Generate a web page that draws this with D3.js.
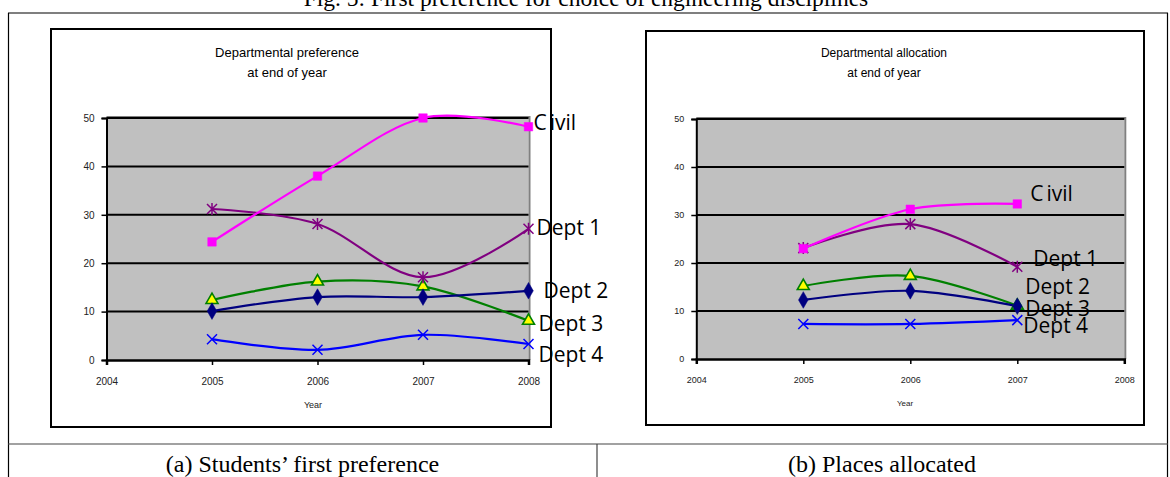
<!DOCTYPE html>
<html>
<head>
<meta charset="utf-8">
<script src="https://cdn.jsdelivr.net/npm/d3@7"></script>
<style>
  html, body { margin: 0; padding: 0; background: #fff; }
  svg { display: block; }
</style>
</head>
<body>
<svg id="fig" width="1170" height="477"></svg>
<script>
// ---------------- DATA ----------------
const figCaption = "Fig. 5: First preference for choice of engineering disciplines";
const captionA = "(a) Students\u2019 first preference";
const captionB = "(b) Places allocated";
const titleA = ["Departmental preference", "at end of year"];
const titleB = ["Departmental allocation", "at end of year"];
const xAxisTitle = "Year";
const xTickYears = [2004, 2005, 2006, 2007, 2008];
const yTickValues = [0, 10, 20, 30, 40, 50];
const seriesNames = ["Civil", "Dept 1", "Dept 2", "Dept 3", "Dept 4"];

// (a) Students' first preference
const prefYears = [2005, 2006, 2007, 2008];
const prefCivil = [24.4, 38.0, 50.0, 48.2];
const prefDept1 = [31.2, 28.1, 17.1, 27.1];
const prefDept2 = [10.1, 13.0, 13.0, 14.3];
const prefDept3 = [12.4, 16.2, 15.2, 8.1];
const prefDept4 = [4.3, 2.1, 5.2, 3.3];

// (b) Places allocated
const allocYears = [2005, 2006, 2007];
const allocCivil = [23.0, 31.2, 32.3];
const allocDept1 = [23.1, 28.1, 19.2];
const allocDept2 = [12.3, 14.2, 11.0];
const allocDept3 = [15.2, 17.3, 11.1];
const allocDept4 = [7.3, 7.3, 8.1];

// ---------------- STYLES ----------------
const seriesStyle = [
  { color: "#ff00ff", marker: "square" },
  { color: "#800080", marker: "asterisk" },
  { color: "#000080", marker: "diamond" },
  { color: "#008000", marker: "triangle" },
  { color: "#0000ff", marker: "x" }
];

const svg = d3.select("#fig");
const serif = "'Liberation Serif', 'Times New Roman', serif";
const sans = "'Liberation Sans', Arial, sans-serif";
const labelFont = "'Open Sans', 'Noto Sans', sans-serif";

// ---------------- TABLE FRAME ----------------
const frame = svg.append("g").attr("fill", "none");
frame.append("line").attr("x1", 8).attr("x2", 1168).attr("y1", 13).attr("y2", 13).attr("stroke", "#000").attr("stroke-width", 1.2);
frame.append("line").attr("x1", 8.5).attr("x2", 8.5).attr("y1", 13).attr("y2", 477).attr("stroke", "#000").attr("stroke-width", 1.2);
frame.append("line").attr("x1", 1167.5).attr("x2", 1167.5).attr("y1", 13).attr("y2", 477).attr("stroke", "#000").attr("stroke-width", 1.2);
frame.append("line").attr("x1", 8).attr("x2", 1168).attr("y1", 444).attr("y2", 444).attr("stroke", "#444").attr("stroke-width", 1.2);
frame.append("line").attr("x1", 597).attr("x2", 597).attr("y1", 444).attr("y2", 477).attr("stroke", "#444").attr("stroke-width", 1.2);

svg.append("text").attr("x", 586).attr("y", 5.5).attr("text-anchor", "middle")
  .attr("font-family", serif).attr("font-size", 23.5).attr("fill", "#000").text(figCaption);
svg.append("text").attr("x", 302.5).attr("y", 472).attr("text-anchor", "middle")
  .attr("font-family", serif).attr("font-size", 24).attr("fill", "#000").text(captionA);
svg.append("text").attr("x", 882).attr("y", 472).attr("text-anchor", "middle")
  .attr("font-family", serif).attr("font-size", 24).attr("fill", "#000").text(captionB);

// ---------------- MARKERS ----------------
function markerPath(type) {
  switch (type) {
    case "square": return d3.symbol(d3.symbolSquare, 72)();
    case "diamond": return d3.symbol(d3.symbolDiamond, 80)();
    case "triangle": return d3.symbol(d3.symbolTriangle, 62)();
    case "x": return "M-5,-5L5,5M-5,5L5,-5";
    case "asterisk": return "M-5,-5L5,5M-5,5L5,-5M0,-6L0,6";
  }
}

function drawChart(cfg) {
  const g = svg.append("g");
  // chart box
  g.append("rect").attr("x", cfg.box.x).attr("y", cfg.box.y).attr("width", cfg.box.w).attr("height", cfg.box.h)
    .attr("fill", "#fff").attr("stroke", "#000").attr("stroke-width", 2);

  const x = d3.scaleLinear().domain([2004, 2008]).range([cfg.plot.x0, cfg.plot.x1]);
  const y = d3.scaleLinear().domain([0, 50]).range([cfg.plot.y0, cfg.plot.y1]);

  // title
  cfg.title.forEach((t, i) => {
    g.append("text").attr("x", cfg.titleCx).attr("y", cfg.titleY[i]).attr("text-anchor", "middle")
      .attr("font-family", sans).attr("font-size", cfg.titleSize).attr("fill", "#000").text(t);
  });

  // plot area
  g.append("rect").attr("x", x(2004)).attr("y", y(50)).attr("width", x(2008) - x(2004)).attr("height", y(0) - y(50))
    .attr("fill", "#c0c0c0");
  g.append("path").attr("d", `M${x(2004)},${y(50) - 1}L${x(2008) + 1},${y(50) - 1}L${x(2008) + 1},${y(0)}`)
    .attr("fill", "none").attr("stroke", "#808080").attr("stroke-width", 2);

  // gridlines
  g.selectAll(".grid").data(yTickValues.filter(v => v > 0)).join("line")
    .attr("x1", x(2004)).attr("x2", x(2008)).attr("y1", d => y(d)).attr("y2", d => y(d))
    .attr("stroke", "#000").attr("stroke-width", 2);

  // axes
  const yAxis = d3.axisLeft(y).tickValues(yTickValues).tickSize(5).tickPadding(7).tickFormat(d3.format("d"));
  const yg = g.append("g").attr("transform", `translate(${x(2004)},0)`).call(yAxis);
  yg.select(".domain").attr("stroke", "#000").attr("stroke-width", 2);
  yg.selectAll(".tick line").attr("stroke", "#000").attr("stroke-width", 1.5);
  yg.selectAll(".tick text").attr("font-family", sans).attr("font-size", cfg.tickSize).attr("fill", "#222");

  const xAxis = d3.axisBottom(x).tickValues(xTickYears).tickSize(5).tickPadding(cfg.xTickPad).tickFormat(d3.format("d"));
  const xg = g.append("g").attr("transform", `translate(0,${y(0)})`).call(xAxis);
  xg.select(".domain").attr("stroke", "#000").attr("stroke-width", 2.5);
  xg.selectAll(".tick line").attr("stroke", "#000").attr("stroke-width", 1.5);
  xg.selectAll(".tick text").attr("font-family", sans).attr("font-size", cfg.tickSize).attr("fill", "#222");

  g.append("text").attr("x", cfg.yearLabel.x).attr("y", cfg.yearLabel.y).attr("text-anchor", "middle")
    .attr("font-family", sans).attr("font-size", cfg.yearLabel.size).attr("fill", "#222").text(xAxisTitle);

  // series
  const line = d3.line().x(d => x(d.year)).y(d => y(d.value)).curve(d3.curveCardinal.tension(0));
  const table = cfg.series.map((vals, i) => ({
    name: seriesNames[i],
    style: seriesStyle[i],
    points: cfg.years.map((yr, j) => ({ year: yr, value: vals[j] }))
  }));

  table.slice().reverse().forEach(s => {
    g.append("path").attr("d", line(s.points)).attr("fill", "none")
      .attr("stroke", s.style.color).attr("stroke-width", 2.2);
  });
  table.slice().reverse().forEach(s => {
    g.selectAll(null).data(s.points).join("path")
      .attr("transform", d => `translate(${x(d.year)},${y(d.value)})`)
      .attr("d", markerPath(s.style.marker))
      .attr("fill", s.style.marker === "triangle" ? "#ffff00" : (s.style.marker === "x" || s.style.marker === "asterisk" ? "none" : s.style.color))
      .attr("stroke", s.style.color)
      .attr("stroke-width", s.style.marker === "triangle" ? 1.6 : (s.style.marker === "x" || s.style.marker === "asterisk" ? 1.5 : 0.5));
  });

  // data labels at last point
  table.forEach((s, i) => {
    const last = s.points[s.points.length - 1];
    const off = cfg.labelOffsets[i];
    const t = g.append("text")
      .attr("x", x(last.year) + off[0]).attr("y", y(last.value) + off[1]).attr("dy", "0.36em")
      .attr("font-family", labelFont).attr("font-size", cfg.labelSize).attr("fill", "#000");
    if (s.name === "Civil") {
      t.append("tspan").text("C");
      t.append("tspan").attr("dx", 3).text("ivil");
    } else {
      t.text(s.name);
    }
  });
}

drawChart({
  box: { x: 51, y: 29, w: 500, h: 398 },
  plot: { x0: 106.5, x1: 528.5, y0: 360, y1: 118 },
  title: titleA, titleCx: 287, titleY: [57, 77], titleSize: 13,
  tickSize: 10, xTickPad: 13,
  yearLabel: { x: 313, y: 408, size: 9 },
  years: prefYears,
  series: [prefCivil, prefDept1, prefDept2, prefDept3, prefDept4],
  labelOffsets: [[5, -4], [8, -1], [15, 0], [10, 3], [10, 10]],
  labelSize: 21
});

drawChart({
  box: { x: 646, y: 31, w: 498, h: 394 },
  plot: { x0: 696.3, x1: 1124.3, y0: 359, y1: 119 },
  title: titleB, titleCx: 884, titleY: [57, 77], titleSize: 12,
  tickSize: 9, xTickPad: 13,
  yearLabel: { x: 905, y: 406, size: 8 },
  years: allocYears,
  series: [allocCivil, allocDept1, allocDept2, allocDept3, allocDept4],
  labelOffsets: [[13, -11], [16, -8], [8, -20], [8, 3], [6, 5]],
  labelSize: 21
});
</script>
</body>
</html>
